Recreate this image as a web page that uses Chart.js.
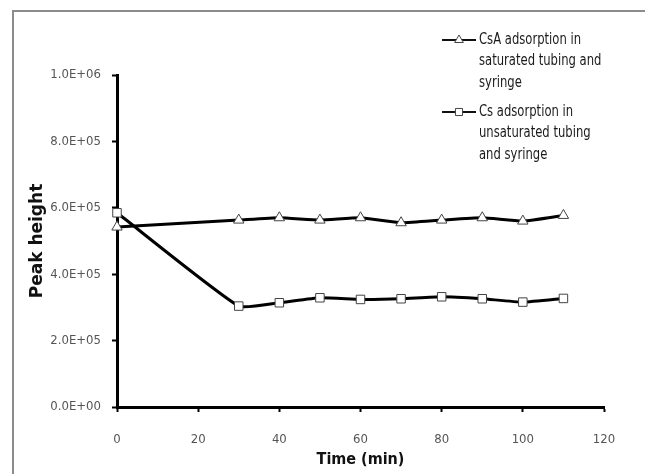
<!DOCTYPE html>
<html>
<head>
<meta charset="utf-8">
<script src="https://cdn.jsdelivr.net/npm/chart.js@4/dist/chart.umd.min.js"></script>
<style>
  html, body { margin: 0; padding: 0; background: #fff; }
  #wrap { width: 645px; height: 474px; }
</style>
</head>
<body>
<div id="wrap"><canvas id="peakChart"></canvas></div>
<script>
const timeMin = [0, 30, 40, 50, 60, 70, 80, 90, 100, 110];
const saturatedPeak = [542000, 563000, 570000, 563000, 570000, 555000, 563000, 570000, 560000, 577000];
const unsaturatedPeak = [585000, 304000, 314000, 329000, 324000, 326000, 332000, 326000, 316000, 327000];
const seriesLabels = [
  ["CsA adsorption in", "saturated tubing and", "syringe"],
  ["Cs adsorption in", "unsaturated tubing", "and syringe"]
];
const seriesMarkers = ['triangle', 'rect'];

const narrow = "'Liberation Sans Narrow', 'DejaVu Sans Condensed', sans-serif";
const tickFont = { family: narrow, size: 13 };

const toPoints = (ys) => timeMin.map((t, i) => ({ x: t, y: ys[i] }));

const sciLabel = (v) => {
  const [m, e] = Number(v).toExponential(1).split('e');
  const n = parseInt(e, 10);
  return m + 'E' + (n < 0 ? '-' : '+') + String(Math.abs(n)).padStart(2, '0');
};

const frame = {
  id: 'frame',
  beforeDraw(chart) {
    const ctx = chart.ctx;
    ctx.save();
    ctx.fillStyle = '#fff';
    ctx.fillRect(0, 0, chart.width, chart.height);
    ctx.strokeStyle = '#8c8c8c';
    ctx.lineWidth = 2;
    ctx.strokeRect(13, 11, 700, 500);
    ctx.restore();
  }
};

// legend sits at the top right with wrapped labels, like the original
const sideLegend = {
  id: 'sideLegend',
  afterDraw(chart) {
    const ctx = chart.ctx;
    const rows = [40, 112];
    chart.data.datasets.forEach((ds, i) => {
      const y = rows[i];
      ctx.save();
      ctx.strokeStyle = '#111';
      ctx.lineWidth = 2;
      ctx.beginPath();
      ctx.moveTo(442, y);
      ctx.lineTo(476, y);
      ctx.stroke();
      ctx.fillStyle = '#fff';
      ctx.strokeStyle = '#444';
      ctx.lineWidth = 1;
      Chart.helpers.drawPoint(ctx, { pointStyle: ds.pointStyle, radius: 5, borderWidth: 1, rotation: 0 }, 459, y);
      ctx.translate(479, y);
      ctx.scale(0.86, 1);
      ctx.fillStyle = '#1a1a1a';
      ctx.font = "15px " + narrow;
      ctx.textBaseline = 'middle';
      ctx.textAlign = 'left';
      seriesLabels[i].forEach((line, k) => ctx.fillText(line, 0, k * 21.5));
      ctx.restore();
    });
  }
};

const makeSet = (ys, i) => ({
  data: toPoints(ys),
  borderColor: '#000',
  borderWidth: 3,
  tension: 0.15,
  pointStyle: seriesMarkers[i],
  pointRadius: 6,
  pointBackgroundColor: '#fff',
  pointBorderColor: '#444',
  pointBorderWidth: 1,
  clip: false
});

new Chart(document.getElementById('peakChart'), {
  type: 'line',
  data: { datasets: [makeSet(saturatedPeak, 0), makeSet(unsaturatedPeak, 1)] },
  options: {
    responsive: true,
    maintainAspectRatio: false,
    animation: false,
    layout: { padding: { top: 75, right: 41, left: 0, bottom: 0 } },
    plugins: { legend: { display: false }, tooltip: { enabled: false } },
    scales: {
      x: {
        type: 'linear',
        min: 0,
        max: 120,
        ticks: { stepSize: 20, color: '#555', font: tickFont, padding: 20, maxRotation: 0 },
        grid: { drawOnChartArea: false, drawTicks: true, tickLength: 5, color: '#000', tickWidth: 2 },
        border: { display: true, color: '#000', width: 3 },
        title: {
          display: true,
          text: 'Time (min)',
          color: '#111',
          font: { family: narrow, size: 16, weight: 'bold' },
          padding: { top: 5, bottom: 5 }
        },
        afterFit(scale) { scale.height = 67; }
      },
      y: {
        min: 0,
        max: 1000000,
        ticks: { stepSize: 200000, color: '#555', font: tickFont, padding: 11, callback: sciLabel },
        grid: { drawOnChartArea: false, drawTicks: true, tickLength: 5, color: '#000', tickWidth: 2 },
        border: { display: true, color: '#000', width: 3 },
        title: {
          display: true,
          text: 'Peak height',
          color: '#111',
          font: { family: "'DejaVu Sans', sans-serif", size: 17, weight: 'bold' },
          padding: { top: 27, bottom: 27 }
        },
        afterFit(scale) { scale.width = 117; }
      }
    }
  },
  plugins: [frame, sideLegend]
});
</script>
</body>
</html>
